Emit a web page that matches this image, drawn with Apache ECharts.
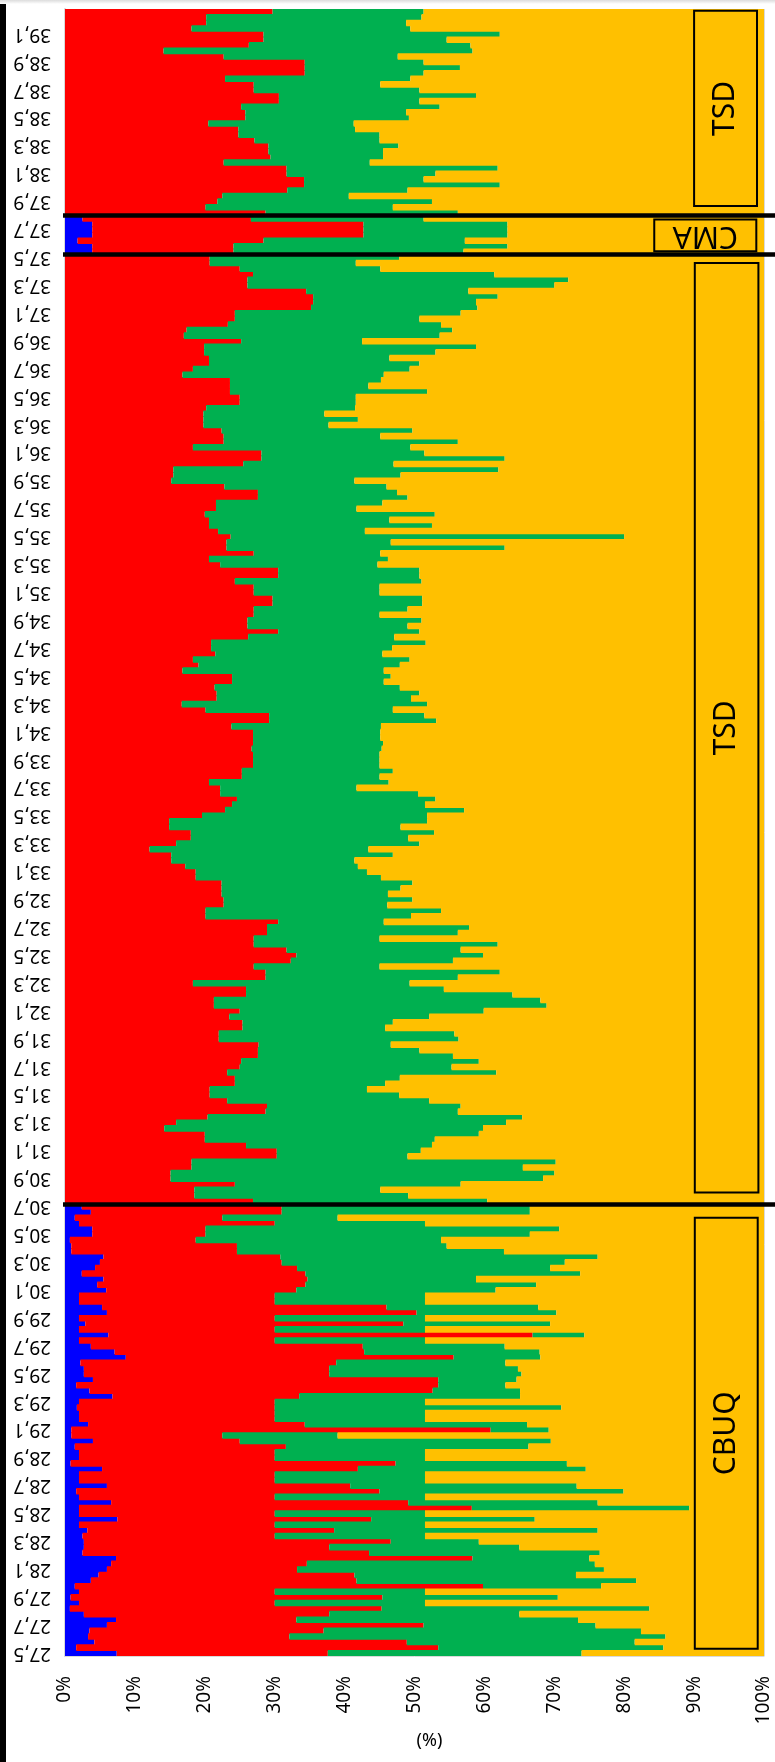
<!DOCTYPE html>
<html><head><meta charset="utf-8">
<script src="https://cdn.jsdelivr.net/npm/echarts@6/dist/echarts.min.js"></script>
<style>
html,body{margin:0;padding:0;background:#fff;}
#chart{width:775px;height:1762px;}
#edge{position:absolute;left:0;top:0;width:6px;height:1762px;background:#000;}
#topstrip{position:absolute;left:0;top:0;width:775px;height:4px;background:linear-gradient(#dcdcdc,#fff);}
</style></head><body>
<div id="chart"></div>
<div id="edge"></div>
<div id="topstrip"></div>
<script>
// Category tick labels (every 5th sample)
const tickLabels = ['27,5','27,7','27,9','28,1','28,3','28,5','28,7','28,9','29,1','29,3','29,5','29,7','29,9','30,1','30,3','30,5','30,7','30,9','31,1','31,3','31,5','31,7','31,9','32,1','32,3','32,5','32,7','32,9','33,1','33,3','33,5','33,7','33,9','34,1','34,3','34,5','34,7','34,9','35,1','35,3','35,5','35,7','35,9','36,1','36,3','36,5','36,7','36,9','37,1','37,3','37,5','37,7','37,9','38,1','38,3','38,5','38,7','38,9','39,1'];

// Blue share (%) in the CBUQ section (rows 0-80) and CMA section (rows 251-257); TSD has none
const cbuqBlue = [7.4,1.6,4.2,3.3,3.5,6.0,7.3,2.7,0.7,2.0,
 0.8,2.0,1.4,3.7,4.8,6.0,6.6,7.3,2.5,2.7,
 2.7,2.5,3.2,2.0,7.5,2.0,2.0,6.6,2.0,1.6,
 6.0,2.0,2.0,5.3,0.8,2.0,2.0,1.4,4.0,0.9,
 0.9,3.3,2.0,2.0,1.7,2.0,6.8,3.5,1.6,4.0,
 2.7,2.7,2.2,8.7,7.1,3.7,2.0,6.2,2.0,2.9,
 2.0,6.0,5.3,2.0,2.0,5.9,4.6,5.5,2.4,4.3,
 5.0,5.5,0.9,0.9,0.7,3.9,3.9,2.0,1.4,3.7,
 2.4];
const tsdLowerBlue = new Array(170).fill(0);
const cmaBlue = [3.9,3.9,1.8,3.9,3.9,3.9,2.5];
const tsdUpperBlue = new Array(37).fill(0);

// Cumulative end of the red segment (%) per sample, bottom (27,5) to top
const redEnd = [37.6,53.4,48.9,32.1,37.0,51.3,33.1,37.8,45.3,30.0,
 45.4,30.0,59.8,41.7,41.4,33.2,34.6,58.3,43.5,37.8,
 46.6,30.0,38.5,30.0,43.8,30.0,58.2,49.1,30.0,45.0,
 40.8,30.0,30.0,41.9,47.3,30.0,30.0,31.6,25.0,22.5,
 60.9,34.3,30.0,30.0,30.0,30.0,33.5,52.6,53.4,53.4,
 37.8,37.8,38.8,55.6,42.8,42.6,30.0,66.9,30.0,48.4,
 30.0,50.3,46.0,30.0,30.0,33.1,34.4,34.7,34.4,33.2,
 31.0,30.8,24.6,24.6,18.7,20.1,20.1,30.0,22.5,31.0,
 31.0,26.9,18.5,18.5,24.3,15.1,15.1,18.1,18.1,30.3,
 30.3,25.9,20.0,20.0,14.2,15.9,20.4,28.7,28.9,23.2,
 20.7,20.7,24.3,24.3,23.2,25.0,25.2,27.6,27.6,27.7,
 22.0,22.0,25.4,25.4,23.5,25.0,21.3,21.3,25.9,25.9,
 18.3,28.7,28.7,27.0,32.3,33.1,31.7,27.0,27.0,28.9,
 28.9,30.5,20.1,20.1,22.7,22.7,22.4,22.4,22.4,18.7,
 18.7,17.2,15.2,15.2,12.1,15.9,18.0,18.0,14.9,14.9,
 19.6,22.9,23.9,24.6,22.2,22.2,20.6,25.3,25.3,26.9,
 26.9,26.9,26.7,26.9,26.9,26.9,23.8,29.2,29.2,20.1,
 16.7,21.7,21.7,21.4,23.9,23.9,16.8,19.1,18.3,21.5,
 20.9,20.9,26.2,30.5,26.1,26.1,27.0,27.0,29.7,29.7,
 27.0,27.0,24.3,30.5,30.5,22.2,20.6,27.0,23.1,23.1,
 23.7,21.9,20.6,20.6,20.0,21.6,21.6,27.6,27.6,22.8,
 15.2,15.5,15.5,25.5,28.1,28.1,18.3,22.7,22.7,22.4,
 19.8,19.8,19.8,20.2,25.0,25.0,23.6,23.6,23.6,16.8,
 18.3,20.6,20.6,19.9,19.9,25.2,17.0,17.4,23.3,24.3,
 24.3,35.2,35.5,35.5,34.5,26.1,26.1,26.9,25.0,20.7,
 20.7,24.1,24.1,28.4,42.7,42.7,42.7,26.6,28.7,20.1,
 21.8,22.5,31.8,34.2,34.2,31.7,31.7,22.7,29.4,29.1,
 29.1,27.1,24.8,24.8,20.5,25.8,25.8,25.2,30.6,30.6,
 27.0,27.0,22.9,34.3,34.3,34.3,22.7,14.1,26.3,28.4,
 28.4,18.1,20.2,20.2,29.7];

// Cumulative end of the green segment (%) per sample
const greenEnd = [73.9,85.6,81.5,85.9,82.4,75.9,73.4,65.0,83.6,51.5,
 70.5,51.5,76.7,81.7,73.1,77.1,75.8,75.0,76.5,65.0,
 59.2,51.5,76.2,51.5,67.2,51.5,89.3,76.2,51.5,79.9,
 73.2,51.5,51.5,74.5,71.8,51.5,51.5,66.3,69.5,39.0,
 69.2,66.1,51.5,51.5,71.0,51.5,65.1,65.1,63.0,64.6,
 65.3,64.8,63.0,68.0,67.9,62.9,51.5,74.3,51.5,69.4,
 51.5,70.3,67.7,51.5,51.5,61.6,67.4,58.8,73.7,69.4,
 71.5,76.2,62.8,54.6,53.8,66.5,70.7,51.5,39.0,66.5,
 66.5,60.4,49.1,45.1,56.6,68.4,70.0,65.5,70.2,49.0,
 50.9,52.5,52.9,59.2,59.8,63.1,65.4,56.2,56.6,52.1,
 47.8,43.2,45.8,47.9,61.7,55.3,59.2,55.5,50.7,46.6,
 56.3,55.7,45.8,46.9,52.1,59.9,68.9,68.0,64.0,54.2,
 49.3,56.2,62.2,45.0,55.5,59.8,56.6,61.9,45.0,56.2,
 57.8,45.6,49.5,53.8,46.1,49.7,46.2,48.0,49.7,45.2,
 43.2,41.9,41.4,46.9,43.4,50.7,49.1,52.8,48.0,51.8,
 51.8,57.1,51.5,53.0,50.5,41.7,46.3,45.0,46.9,45.0,
 45.0,45.0,45.3,45.5,45.1,45.1,45.2,53.1,51.4,46.9,
 51.8,49.5,50.7,47.9,45.6,46.6,45.6,47.9,49.3,45.4,
 46.8,51.6,47.1,50.7,49.0,51.0,45.0,49.0,51.1,51.1,
 45.0,45.0,51.0,50.7,50.7,44.7,46.2,45.1,62.9,46.6,
 80.0,42.9,52.5,46.4,52.9,41.7,45.4,49.0,47.5,46.0,
 41.4,48.0,62.0,47.0,62.9,51.4,49.4,56.2,45.1,49.7,
 37.7,41.9,37.1,41.5,41.6,41.6,51.8,43.4,45.2,45.6,
 49.3,50.7,46.4,53.0,58.8,42.5,53.6,55.4,53.8,50.7,
 56.6,59.0,58.8,61.9,57.7,70.0,72.0,61.4,45.1,41.6,
 47.8,57.0,63.3,57.2,63.3,63.3,63.3,51.3,56.2,46.9,
 52.5,40.6,49.0,62.2,51.3,53.0,61.9,43.6,45.5,45.5,
 47.7,45.0,45.0,41.5,41.3,49.2,48.8,53.6,50.7,58.8,
 50.7,45.1,49.4,51.3,56.5,51.3,47.6,58.3,58.0,54.6,
 62.2,49.4,48.8,51.0,51.3];

// Section boundaries (sample index where a new section starts) and section labels
const sectionBreaks = [81, 251, 258];
const sectionNames = ['CBUQ', 'TSD', 'CMA', 'TSD'];

const blueEnd = cbuqBlue.concat(tsdLowerBlue, cmaBlue, tsdUpperBlue);
const rnd = v => Math.round(v * 100) / 100;
const blue = blueEnd.slice();
const red = redEnd.map((v, i) => rnd(v - blueEnd[i]));
const green = greenEnd.map((v, i) => rnd(v - redEnd[i]));
const orange = greenEnd.map(v => rnd(100 - v));
const categories = redEnd.map((_, i) => 's' + i);
const N = categories.length;

// label boxes (in axis units: % horizontally, sample index vertically)
const boxes = [
  {x: [90.1, 99.1], y: [1.3, 78.5], rot: 90},
  {x: [90.1, 99.2], y: [83.0, 249.5], rot: 90},
  {x: [84.3, 98.9], y: [251.6, 257.3], rot: 180},
  {x: [90.0, 99.0], y: [259.7, 294.7], rot: 90}
];

const FONT = 'Noto Sans';
const chart = echarts.init(document.getElementById('chart'), null, {renderer: 'canvas'});
const barSeries = (name, data, color) => ({
  name, type: 'bar', stack: 'all', data, barWidth: 6.6,
  itemStyle: {color}, silent: true, xAxisIndex: 0, yAxisIndex: 0
});
chart.setOption({
  animation: false,
  textStyle: {fontFamily: FONT},
  grid: [
    {left: 65, right: 11, top: 9, bottom: 106},
    {left: 63, right: 0, top: 9, bottom: 106}
  ],
  xAxis: [
    {type: 'value', gridIndex: 0, min: 0, max: 100, interval: 10,
     axisLabel: {formatter: '{value}%', rotate: 90, fontSize: 19, margin: 20, color: '#000', fontFamily: FONT},
     axisLine: {show: true, lineStyle: {color: '#d9d9d9'}}, axisTick: {show: false},
     splitLine: {show: true, lineStyle: {color: '#d9d9d9'}},
     name: '(%)', nameLocation: 'middle', nameGap: 51,
     nameTextStyle: {fontSize: 18, color: '#000', fontFamily: FONT, padding: [0, 0, 0, 30]}},
    {type: 'value', gridIndex: 1, min: 0, max: 1, show: false}
  ],
  yAxis: [
    {type: 'category', gridIndex: 0, data: categories,
     axisLine: {show: true, lineStyle: {color: '#d9d9d9', width: 2}}, axisTick: {show: false},
     axisLabel: {interval: 4, rotate: 180, fontSize: 19, margin: 14, color: '#000', fontFamily: FONT,
                 formatter: (v, i) => tickLabels[Math.round(i / 5)]}},
    {type: 'value', gridIndex: 0, min: 0, max: N, show: false},
    {type: 'value', gridIndex: 1, min: 0, max: N, show: false}
  ],
  series: [
    barSeries('Blue', blue, '#0000FF'),
    barSeries('Red', red, '#FF0000'),
    barSeries('Green', green, '#00B050'),
    barSeries('Orange', orange, '#FFC000'),
    {type: 'line', xAxisIndex: 0, yAxisIndex: 1, data: [], silent: true,
     markArea: {silent: true, z: 10,
       itemStyle: {color: 'rgba(0,0,0,0)', borderColor: '#000', borderWidth: 2},
       label: {show: true, position: 'inside', fontSize: 30, color: '#000', fontFamily: FONT},
       data: boxes.map((b, k) => [
         {name: sectionNames[k], coord: [b.x[0], b.y[0]], label: {rotate: b.rot}},
         {coord: [b.x[1], b.y[1]]}
       ])}},
    {type: 'line', xAxisIndex: 1, yAxisIndex: 2, data: [], silent: true,
     markLine: {silent: true, symbol: 'none', z: 12,
       lineStyle: {color: '#000', width: 4.5, type: 'solid'}, label: {show: false},
       data: sectionBreaks.map(v => ({yAxis: v}))}}
  ]
});
</script></body></html>
